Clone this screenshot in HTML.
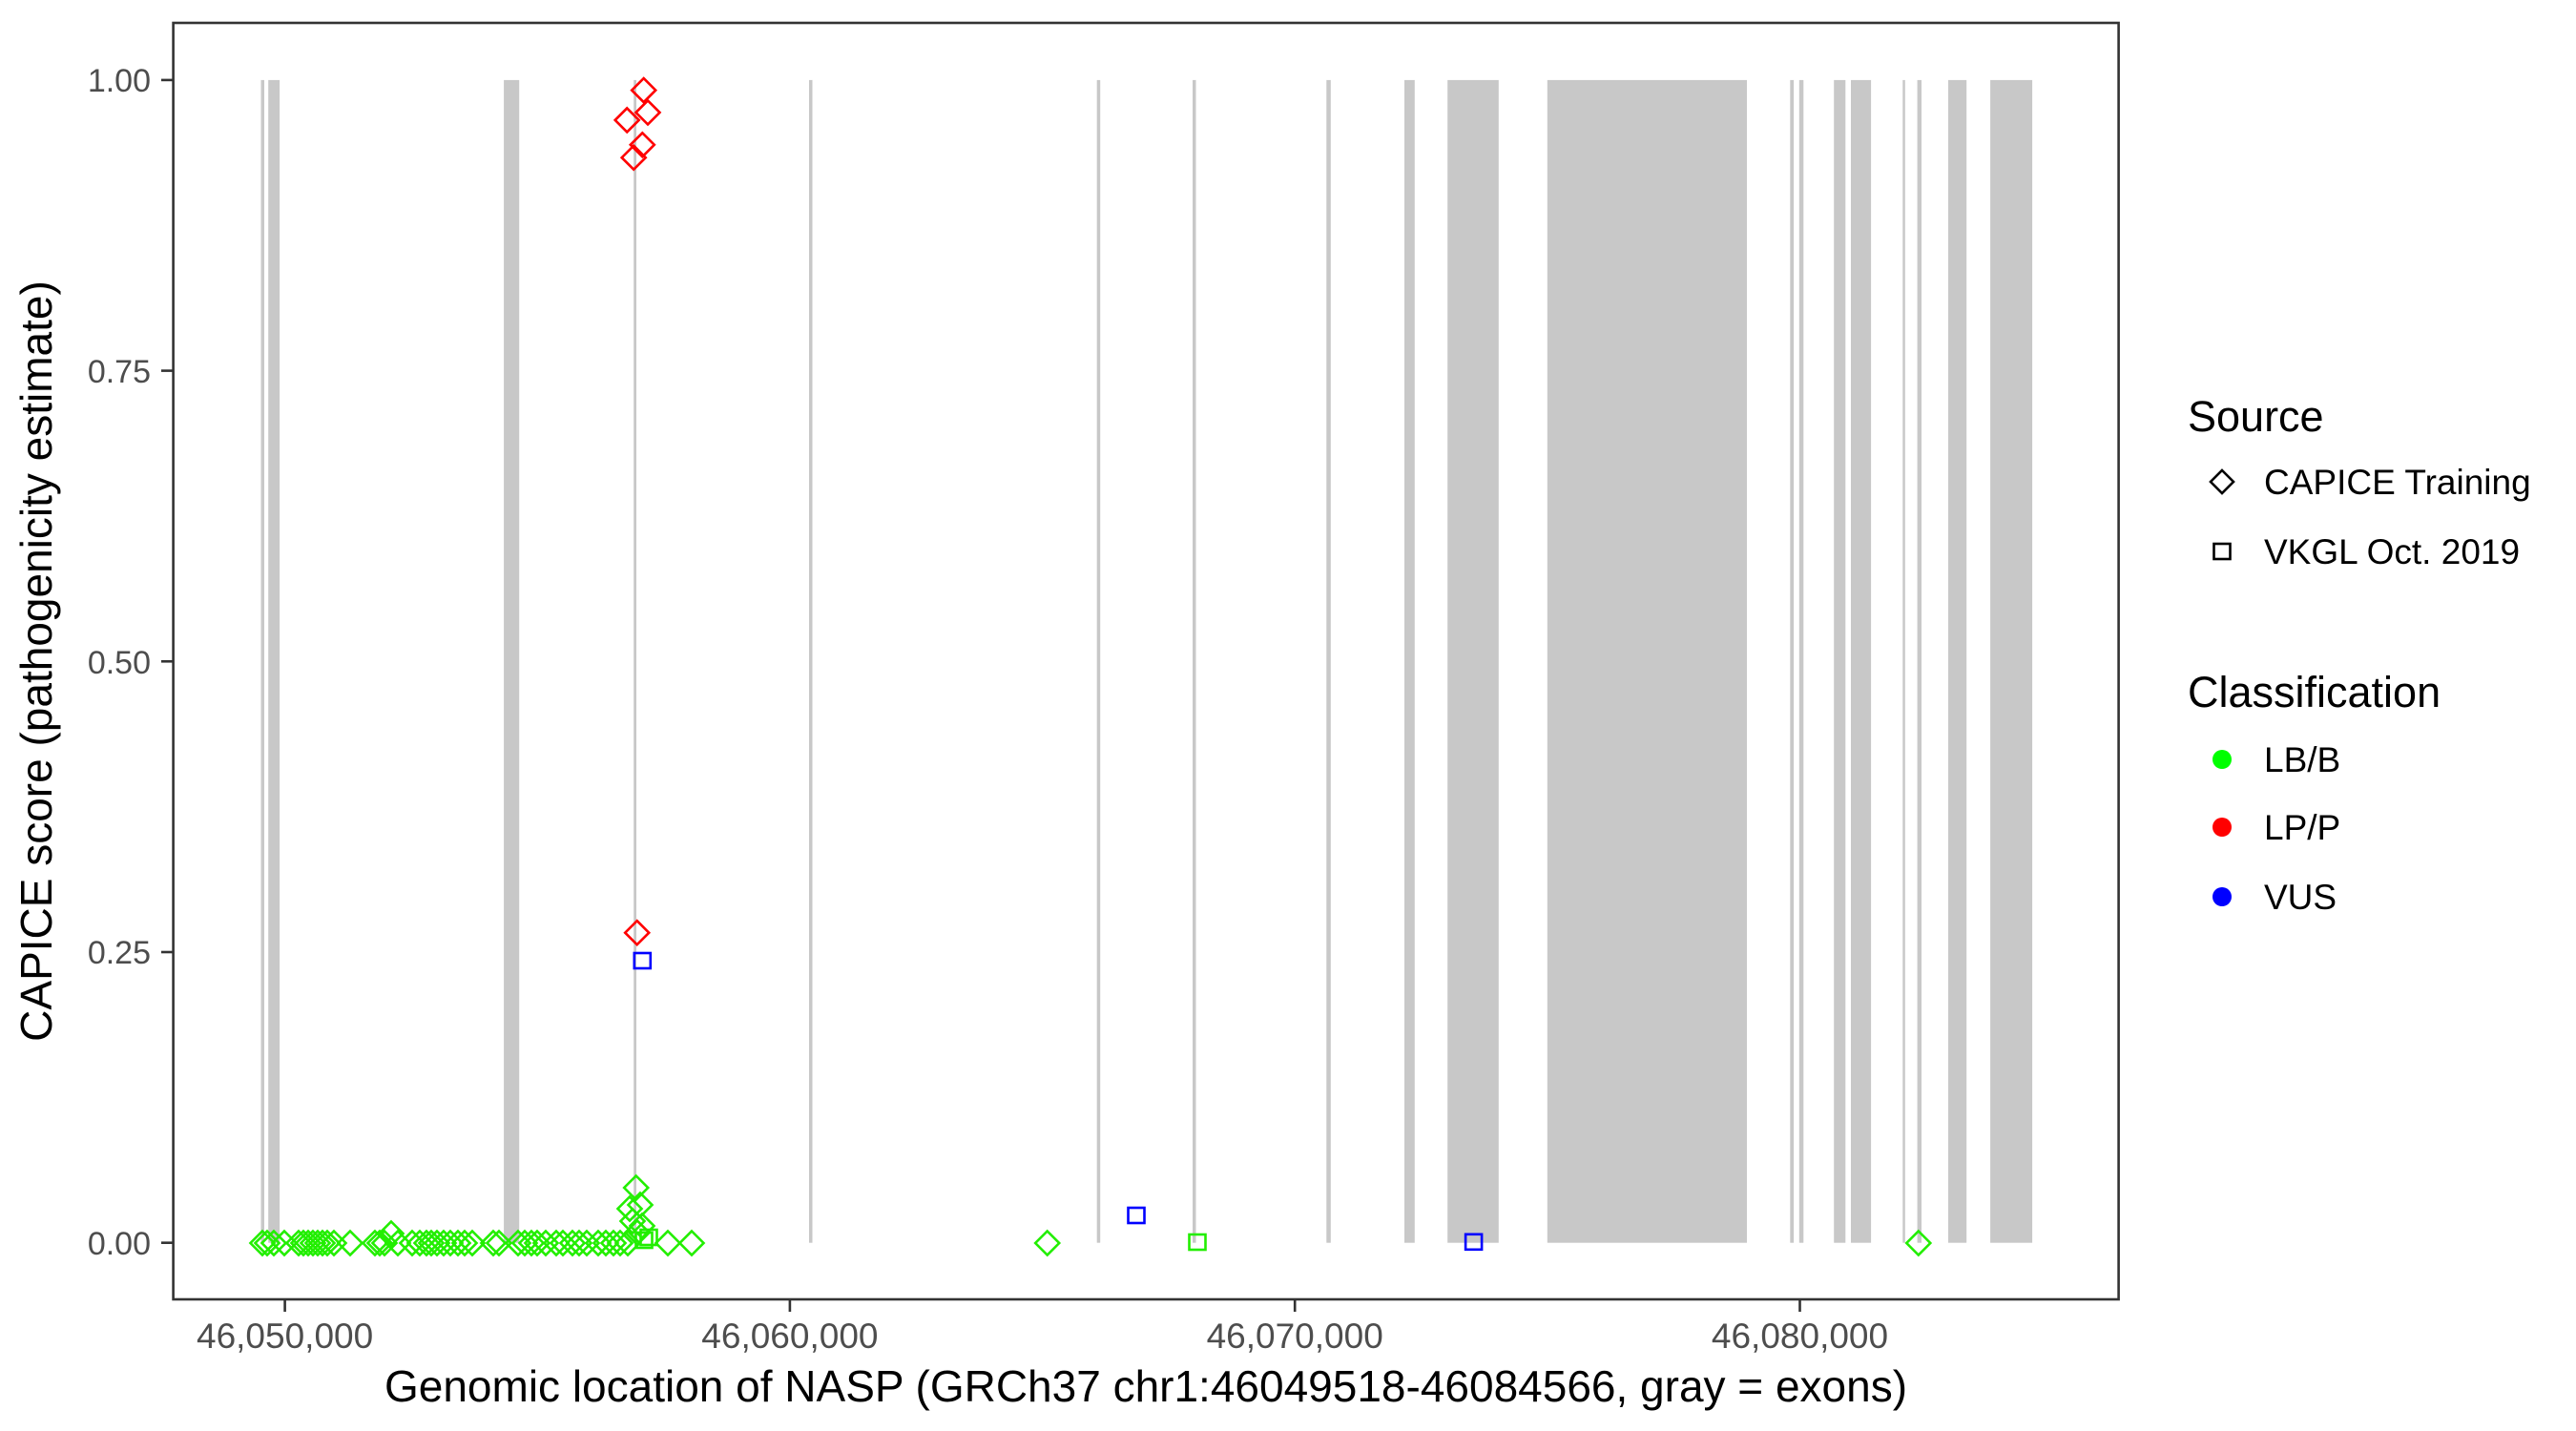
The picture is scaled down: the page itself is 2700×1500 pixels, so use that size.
<!DOCTYPE html>
<html><head><meta charset="utf-8"><style>
html,body{margin:0;padding:0;background:#fff;}
svg{display:block;}
text{font-family:"Liberation Sans",Arial,sans-serif;}
</style></head><body>
<svg id="s" width="2700" height="1500" viewBox="0 0 2700 1500" xmlns="http://www.w3.org/2000/svg">
<rect width="2700" height="1500" fill="#fff"/>
<g id="exons" fill="#C8C8C8"></g>
<g id="pts" fill="none" stroke-width="2.6"></g>
<rect x="181.6" y="24" width="2039" height="1338" fill="none" stroke="#333" stroke-width="2.6"/>
<g stroke="#333" stroke-width="2.6">
<line x1="169" y1="83.9" x2="181.6" y2="83.9"/>
<line x1="169" y1="388.6" x2="181.6" y2="388.6"/>
<line x1="169" y1="693.3" x2="181.6" y2="693.3"/>
<line x1="169" y1="998" x2="181.6" y2="998"/>
<line x1="169" y1="1302.7" x2="181.6" y2="1302.7"/>
<line x1="298.6" y1="1362" x2="298.6" y2="1375"/>
<line x1="827.9" y1="1362" x2="827.9" y2="1375"/>
<line x1="1357.2" y1="1362" x2="1357.2" y2="1375"/>
<line x1="1886.5" y1="1362" x2="1886.5" y2="1375"/>
</g>
<g fill="#4D4D4D" font-size="34" text-anchor="end">
<text x="158" y="96">1.00</text>
<text x="158" y="401">0.75</text>
<text x="158" y="706">0.50</text>
<text x="158" y="1010">0.25</text>
<text x="158" y="1315">0.00</text>
</g>
<g fill="#4D4D4D" font-size="37" text-anchor="middle">
<text x="298.6" y="1413">46,050,000</text>
<text x="827.9" y="1413">46,060,000</text>
<text x="1357.2" y="1413">46,070,000</text>
<text x="1886.5" y="1413">46,080,000</text>
</g>
<text x="1201" y="1469" font-size="46" text-anchor="middle" fill="#000">Genomic location of NASP (GRCh37 chr1:46049518-46084566, gray = exons)</text>
<text transform="translate(54,693) rotate(-90)" font-size="46" text-anchor="middle" fill="#000">CAPICE score (pathogenicity estimate)</text>
<g fill="#000">
<text x="2293" y="452" font-size="45">Source</text>
<polygon points="2329,493 2341,505 2329,517 2317,505" fill="none" stroke="#000" stroke-width="2.6"/>
<text x="2373" y="518" font-size="37">CAPICE Training</text>
<rect x="2320.5" y="570" width="17" height="16" fill="none" stroke="#000" stroke-width="2.6"/>
<text x="2373" y="591" font-size="37">VKGL Oct. 2019</text>
<text x="2293" y="741" font-size="45">Classification</text>
<circle cx="2329" cy="796" r="10" fill="#00FF00"/>
<text x="2373" y="809" font-size="37">LB/B</text>
<circle cx="2329" cy="867" r="10" fill="#FF0000"/>
<text x="2373" y="880" font-size="37">LP/P</text>
<circle cx="2329" cy="940" r="10" fill="#0000FF"/>
<text x="2373" y="953" font-size="37">VUS</text>
</g>
</svg>
<script>
var NS="http://www.w3.org/2000/svg";
var ex=[[273.5,277],[281.2,293.1],[528.1,544.2],[664.2,667],[848,851.5],[1149.7,1153.2],[1250,1253.5],[1390.3,1394.8],[1472,1482.8],[1517.2,1570.8],[1621.8,1831],[1876.3,1880.1],[1885.8,1890.3],[1922.2,1934.3],[1940,1961.1],[1994.3,1996.8],[2009.6,2014],[2042,2061.2],[2086.1,2130.1]];
var eg=document.getElementById('exons');
ex.forEach(function(e){var r=document.createElementNS(NS,'rect');r.setAttribute('x',e[0]);r.setAttribute('y',83.9);r.setAttribute('width',e[1]-e[0]);r.setAttribute('height',1302.7-83.9);eg.appendChild(r);});
var pg=document.getElementById('pts');
function dia(x,y,c){var p=document.createElementNS(NS,'polygon');p.setAttribute('points',(x)+','+(y-12.5)+' '+(x+12.5)+','+y+' '+x+','+(y+12.5)+' '+(x-12.5)+','+y);p.setAttribute('stroke',c);pg.appendChild(p);}
function sq(x,y,c){var r=document.createElementNS(NS,'rect');r.setAttribute('x',x-8.5);r.setAttribute('y',y-8);r.setAttribute('width',17);r.setAttribute('height',16);r.setAttribute('stroke',c);pg.appendChild(r);}
var G="#22EE00",R="#FF0000",B="#0000FF";
var gx=[275,280,287,298,313,318,323,328,333,338,343,350,367,393,398,403,417,432,440,447,452,458,465,472,480,487,495,517,523,543,550,557,563,572,583,590,600,607,615,627,635,643,650,658,700,725,1097.7,2010.8];
gx.forEach(function(x){dia(x,1303,G);});
dia(410,1293,G);
dia(666.7,1245,G);dia(671,1263,G);dia(660,1267,G);dia(663,1280,G);dia(673,1285,G);dia(668,1292,G);
sq(675,1300,G);sq(680,1297,G);sq(1255,1302,G);
dia(674.7,94.6,R);dia(657.2,125.9,R);dia(679,117.9,R);dia(673.3,151.8,R);dia(664.2,165.2,R);dia(667.7,977.7,R);
sq(673.3,1007,B);sq(1191,1274,B);sq(1544.6,1301.8,B);
</script>
</body></html>
